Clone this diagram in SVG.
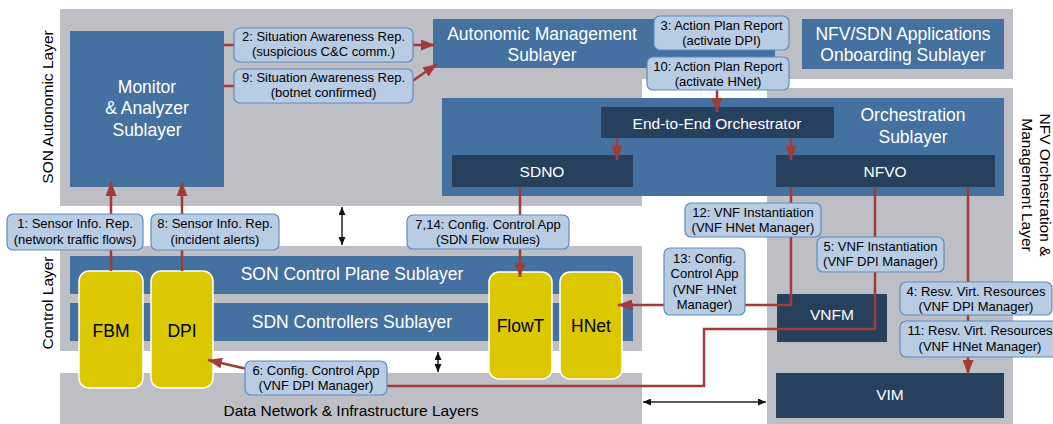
<svg xmlns="http://www.w3.org/2000/svg" width="1053" height="424" viewBox="0 0 1053 424">
<style>
.bg{fill:#bebfc4}
.blue{fill:#4471a0}
.dark{fill:#27405d}
.yel{fill:#dbc800;stroke:#ffffff;stroke-width:1.5}
.lbl{fill:#b8cce4;stroke:#5e8bbf;stroke-width:1.2}
text{font-family:"Liberation Sans",Arial,sans-serif}
.wt{fill:#fff;font-size:17.5px;text-anchor:middle}
.wt2{fill:#fff;font-size:15.5px;text-anchor:middle}
.bt{fill:#000;font-size:17.5px;text-anchor:middle}
.lt{fill:#000;font-size:13px;text-anchor:middle}
.layer{fill:#000;font-size:15.5px;text-anchor:middle}
.red{fill:none;stroke:#a33a3a;stroke-width:2.5;marker-end:url(#ar)}
.redn{fill:none;stroke:#a33a3a;stroke-width:2.5}
.blk{fill:none;stroke:#222;stroke-width:1.5;marker-start:url(#bk);marker-end:url(#bk)}
</style>
<defs>
<marker id="ar" viewBox="0 0 14 11" refX="14" refY="5.5" markerWidth="14" markerHeight="11" markerUnits="userSpaceOnUse" orient="auto"><path d="M0,0 L14,5.5 L0,11 z" fill="#a33a3a"/></marker>
<marker id="bk" viewBox="0 0 8 7" refX="8" refY="3.5" markerWidth="8" markerHeight="7" markerUnits="userSpaceOnUse" orient="auto-start-reverse"><path d="M0,0 L8,3.5 L0,7 z" fill="#111"/></marker>
</defs>

<g id="son-autonomic-layer"><path class="bg" d="M60,9 H1013 V79 H642 V206 H60 Z"/><text class="layer" transform="translate(53,107) rotate(-90)">SON Autonomic Layer</text></g>
<g id="nfv-mano-layer"><rect class="bg" x="767" y="88" width="246" height="336"/><text class="layer" transform="translate(1040,185) rotate(90)"><tspan x="0" y="0">NFV Orchestration &amp;</tspan><tspan x="0" y="18">Management Layer</tspan></text></g>
<g id="control-layer"><rect class="bg" x="60" y="246" width="582" height="105"/><text class="layer" transform="translate(53,303) rotate(-90)">Control Layer</text></g>
<g id="data-layer"><rect class="bg" x="60" y="373" width="582" height="51"/><text class="layer" x="351" y="416">Data Network &amp; Infrastructure Layers</text></g>

<g id="monitor-analyzer"><rect class="blue" x="70" y="31" width="154" height="156"/><text class="wt"><tspan x="147" y="93">Monitor</tspan><tspan x="147" y="114">&amp; Analyzer</tspan><tspan x="147" y="136">Sublayer</tspan></text></g>
<g id="autonomic-management"><rect class="blue" x="433" y="19" width="342" height="49"/><text class="wt"><tspan x="542" y="39.5">Autonomic Management</tspan><tspan x="542" y="60.5">Sublayer</tspan></text></g>
<g id="onboarding"><rect class="blue" x="802" y="19" width="202" height="50"/><text class="wt"><tspan x="903" y="39.5">NFV/SDN Applications</tspan><tspan x="903" y="60.5">Onboarding Sublayer</tspan></text></g>
<g id="orchestration"><rect class="blue" x="442" y="98" width="562" height="98"/><text class="wt"><tspan x="913" y="121">Orchestration</tspan><tspan x="913" y="143">Sublayer</tspan></text></g>
<g id="e2e-orchestrator"><rect class="dark" x="601" y="107" width="233" height="31"/><text class="wt2" x="717" y="128.5">End-to-End Orchestrator</text></g>
<g id="sdno"><rect class="dark" x="452" y="155" width="181" height="32"/><text class="wt2" x="542" y="176.5">SDNO</text></g>
<g id="nfvo"><rect class="dark" x="776" y="155" width="219" height="32"/><text class="wt2" x="885" y="176.5">NFVO</text></g>
<g id="son-control-plane"><rect class="blue" x="70" y="256" width="563" height="38"/><text class="wt" x="352" y="280">SON Control Plane Sublayer</text></g>
<g id="sdn-controllers"><rect class="blue" x="70" y="303" width="563" height="38"/><text class="wt" x="352" y="328">SDN Controllers Sublayer</text></g>
<g id="vnfm"><rect class="dark" x="777" y="294" width="110" height="48"/><text class="wt2" x="832" y="319.5">VNFM</text></g>
<g id="vim"><rect class="dark" x="776" y="373" width="228" height="45"/><text class="wt2" x="890" y="400">VIM</text></g>
<g id="fbm"><rect class="yel" x="79" y="271" width="64" height="117" rx="10"/><text class="bt" x="111" y="336.5">FBM</text></g>
<g id="dpi"><rect class="yel" x="151" y="271" width="62" height="117" rx="10"/><text class="bt" x="182" y="336.5">DPI</text></g>
<g id="flowt"><rect class="yel" x="489" y="272" width="63" height="107" rx="10"/><text class="bt" x="520.5" y="332">FlowT</text></g>
<g id="hnet"><rect class="yel" x="560" y="272" width="62" height="107" rx="10"/><text class="bt" x="591" y="332">HNet</text></g>

<g id="connectors">
<path class="red" d="M111,271 V182"/>
<path class="red" d="M182,271 V182"/>
<path class="red" d="M224,45 H435"/>
<path class="redn" d="M224,86 H240"/>
<path class="red" d="M411,82 L437,64"/>
<path class="red" d="M717,88 V112"/>
<path class="red" d="M617,138 V160"/>
<path class="red" d="M791,138 V160"/>
<path class="red" d="M520,187 V277"/>
<path class="red" d="M791,187 V305 H618"/>
<path class="red" d="M875,187 V329 H704 V386 H320 L247,369 L208,360"/>
<path class="red" d="M968,187 V374"/>
<path class="blk" d="M342,207 V245"/>
<path class="blk" d="M438,352 V372"/>
<path class="blk" d="M643,402 H766"/>
</g>

<g id="label-1"><rect class="lbl" x="7" y="214" width="136" height="36" rx="6"/><text class="lt"><tspan x="75" y="228">1: Sensor Info. Rep.</tspan><tspan x="75" y="243.5">(network traffic flows)</tspan></text></g>
<g id="label-8"><rect class="lbl" x="151" y="214" width="128" height="36" rx="6"/><text class="lt"><tspan x="215" y="228">8: Sensor Info. Rep.</tspan><tspan x="215" y="243.5">(incident alerts)</tspan></text></g>
<g id="label-2"><rect class="lbl" x="234" y="28" width="179" height="34" rx="6"/><text class="lt"><tspan x="323.5" y="41">2: Situation Awareness Rep.</tspan><tspan x="323.5" y="56">(suspicious C&amp;C comm.)</tspan></text></g>
<g id="label-9"><rect class="lbl" x="234" y="69" width="179" height="34" rx="6"/><text class="lt"><tspan x="323.5" y="82">9: Situation Awareness Rep.</tspan><tspan x="323.5" y="97">(botnet confirmed)</tspan></text></g>
<g id="label-3"><rect class="lbl" x="654" y="16" width="135" height="34" rx="6"/><text class="lt"><tspan x="721.5" y="29.5">3: Action Plan Report</tspan><tspan x="721.5" y="44.5">(activate DPI)</tspan></text></g>
<g id="label-10"><rect class="lbl" x="647" y="57" width="142" height="33" rx="6"/><text class="lt"><tspan x="718" y="70.5">10: Action Plan Report</tspan><tspan x="718" y="86">(activate HNet)</tspan></text></g>
<g id="label-7-14"><rect class="lbl" x="407" y="215" width="162" height="34" rx="6"/><text class="lt"><tspan x="488" y="228.5">7,14: Config. Control App</tspan><tspan x="488" y="243.5">(SDN Flow Rules)</tspan></text></g>
<g id="label-6"><rect class="lbl" x="245" y="361" width="142" height="34" rx="6"/><text class="lt"><tspan x="316" y="374.5">6: Config. Control App</tspan><tspan x="316" y="389.5">(VNF DPI Manager)</tspan></text></g>
<g id="label-12"><rect class="lbl" x="685" y="203" width="136" height="34" rx="6"/><text class="lt"><tspan x="753" y="216.5">12: VNF Instantiation</tspan><tspan x="753" y="231.5">(VNF HNet Manager)</tspan></text></g>
<g id="label-5"><rect class="lbl" x="817" y="237" width="127" height="35" rx="6"/><text class="lt"><tspan x="880.5" y="250.5">5: VNF Instantiation</tspan><tspan x="880.5" y="266">(VNF DPI Manager)</tspan></text></g>
<g id="label-13"><rect class="lbl" x="664" y="248" width="81" height="67" rx="6"/><text class="lt"><tspan x="704.5" y="262.5">13: Config.</tspan><tspan x="704.5" y="278">Control App</tspan><tspan x="704.5" y="293.5">(VNF HNet</tspan><tspan x="704.5" y="309">Manager)</tspan></text></g>
<g id="label-4"><rect class="lbl" x="900" y="282" width="152" height="33" rx="6"/><text class="lt"><tspan x="976" y="295.5">4: Resv. Virt. Resources</tspan><tspan x="976" y="310.5">(VNF DPI Manager)</tspan></text></g>
<g id="label-11"><rect class="lbl" x="900" y="321" width="160" height="36" rx="6"/><text class="lt"><tspan x="980" y="335">11: Resv. Virt. Resources</tspan><tspan x="980" y="350.5">(VNF HNet Manager)</tspan></text></g>
</svg>
